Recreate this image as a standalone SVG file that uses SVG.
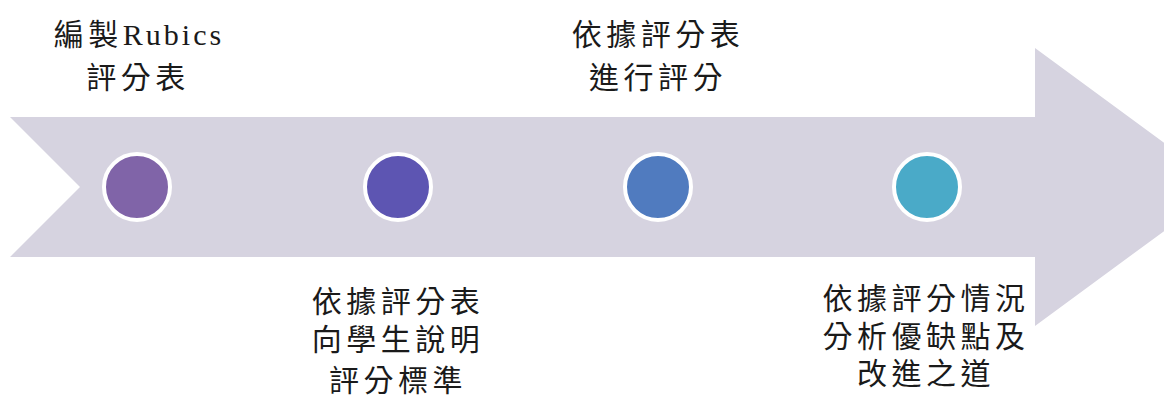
<svg xmlns="http://www.w3.org/2000/svg" width="1164" height="396" viewBox="0 0 1164 396">
  <style>
    .lbl { font-family: "Liberation Serif", "Noto Sans CJK TC", serif; font-size: 30px; letter-spacing: 4.5px; fill: #1a1a1a; text-anchor: middle; }
    .lat { letter-spacing: 3px; }
    .dot { stroke: #ffffff; stroke-width: 4; }
  </style>
  <rect width="1164" height="396" fill="#ffffff"/>
  <g id="connectors">
    <polygon id="arrow" points="10,117 1035,117 1035,48 1224,187 1035,326 1035,257 10,257 80,187" fill="#d6d3e0"/>
  </g>
  <g id="step1">
    <circle class="dot" cx="137" cy="187" r="33" fill="#8064a8"/>
    <text class="lbl" x="139" y="45">編製<tspan class="lat">Rubics</tspan></text>
    <text class="lbl" x="138" y="88">評分表</text>
  </g>
  <g id="step2">
    <circle class="dot" cx="398" cy="187" r="33" fill="#5d55b2"/>
    <text class="lbl" x="398" y="312">依據評分表</text>
    <text class="lbl" x="398" y="350">向學生說明</text>
    <text class="lbl" x="398" y="391">評分標準</text>
  </g>
  <g id="step3">
    <circle class="dot" cx="658" cy="187" r="33" fill="#507bbf"/>
    <text class="lbl" x="658" y="45">依據評分表</text>
    <text class="lbl" x="658" y="88">進行評分</text>
  </g>
  <g id="step4">
    <circle class="dot" cx="927" cy="187" r="33" fill="#4aaac8"/>
    <text class="lbl" x="926" y="309">依據評分情況</text>
    <text class="lbl" x="926" y="347">分析優缺點及</text>
    <text class="lbl" x="926" y="384">改進之道</text>
  </g>
</svg>
